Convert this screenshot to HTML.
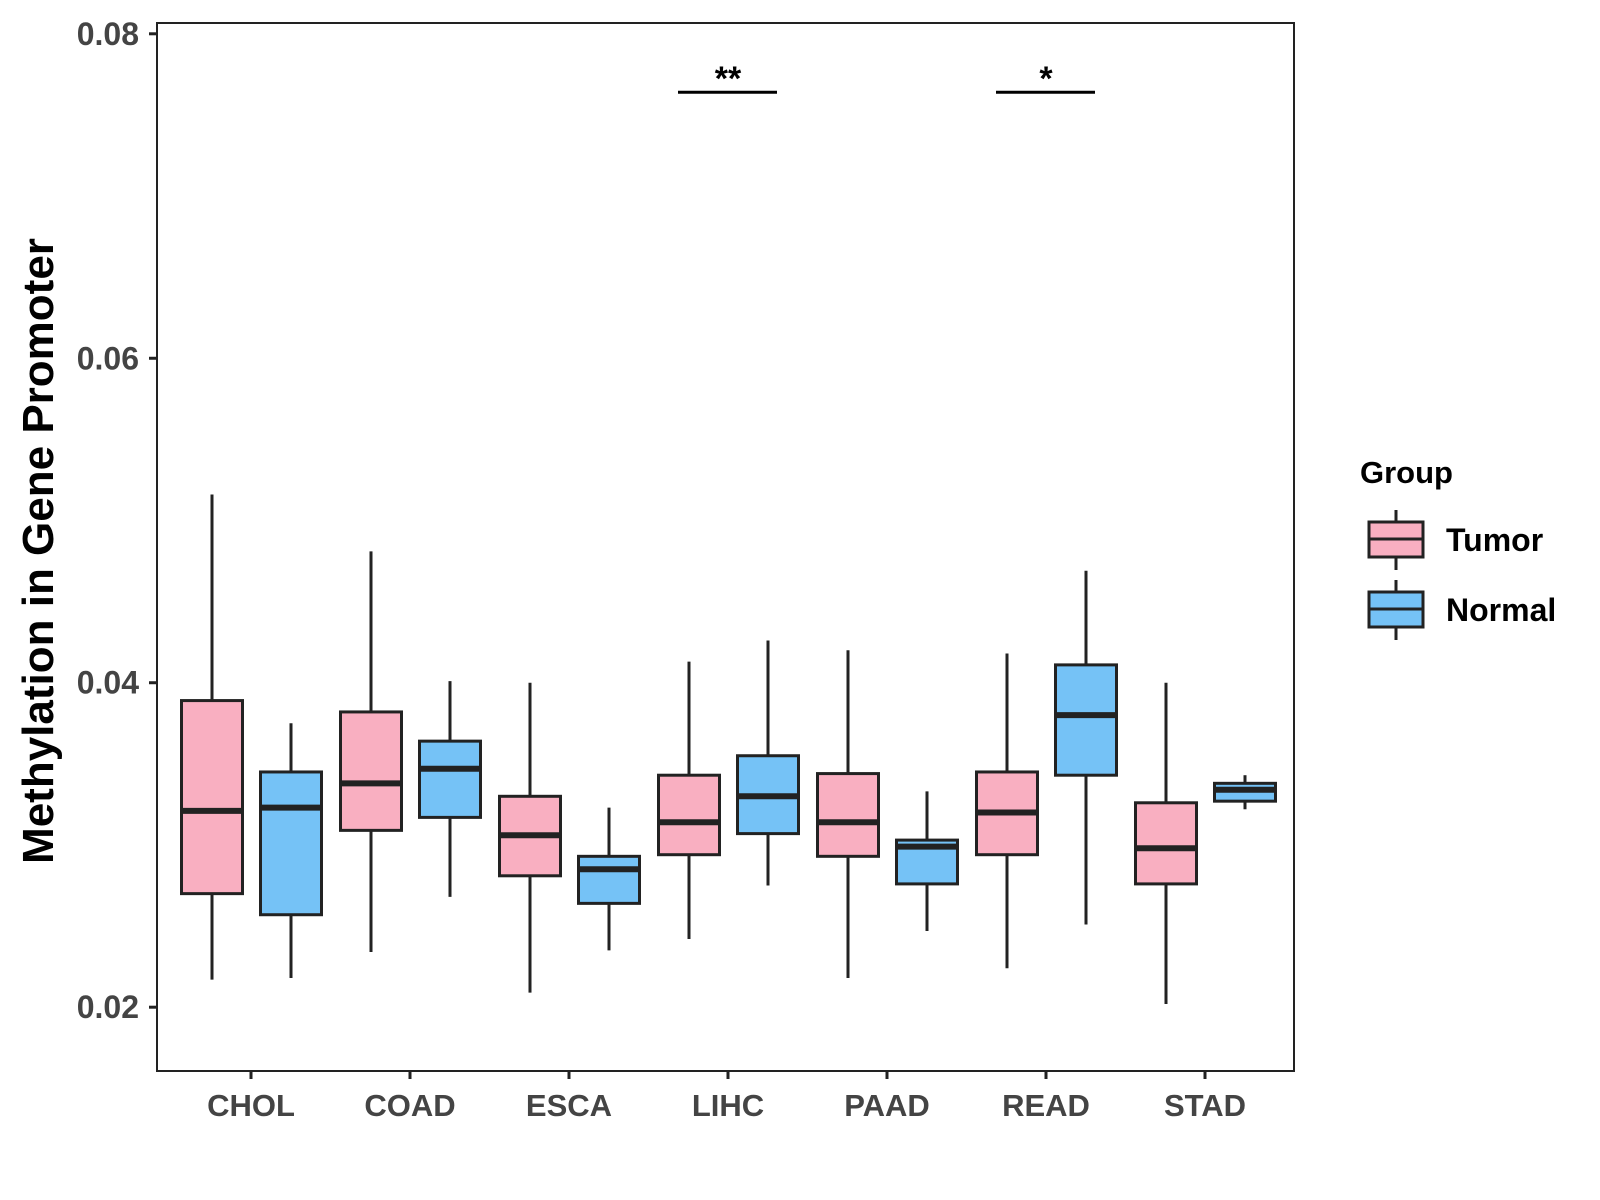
<!DOCTYPE html>
<html><head><meta charset="utf-8"><style>body{margin:0;background:#fff}svg{display:block;font-family:"Liberation Sans",Arial,sans-serif;font-weight:bold}</style></head>
<body>
<svg id="chart" width="1600" height="1200" xmlns="http://www.w3.org/2000/svg">
<rect x="157" y="23" width="1137" height="1048" fill="#fff" stroke="#222" stroke-width="2"/>
<g id="marks"></g>
<text transform="translate(53,551) rotate(-90)" text-anchor="middle" font-size="44" fill="#000">Methylation in Gene Promoter</text>
<g>
<text x="1360" y="483" font-size="31" fill="#000">Group</text>
<line x1="1396" y1="510" x2="1396" y2="570" stroke="#222" stroke-width="3"/>
<rect x="1369" y="522" width="54" height="35" fill="#F9AFC1" stroke="#222" stroke-width="3"/>
<line x1="1369" y1="539" x2="1423" y2="539" stroke="#222" stroke-width="3"/>
<text x="1446" y="551" font-size="32" fill="#000">Tumor</text>
<line x1="1396" y1="580" x2="1396" y2="640" stroke="#222" stroke-width="3"/>
<rect x="1369" y="592" width="54" height="35" fill="#75C2F6" stroke="#222" stroke-width="3"/>
<line x1="1369" y1="609" x2="1423" y2="609" stroke="#222" stroke-width="3"/>
<text x="1446" y="621" font-size="32" fill="#000">Normal</text>
</g>
</svg>
<script>
const categories=["CHOL","COAD","ESCA","LIHC","PAAD","READ","STAD"];
const tumorStats=[[0.0217,0.0270,0.0321,0.0389,0.0516],[0.0234,0.0309,0.0338,0.0382,0.0481],[0.0209,0.0281,0.0306,0.0330,0.0400],[0.0242,0.0294,0.0314,0.0343,0.0413],[0.0218,0.0293,0.0314,0.0344,0.0420],[0.0224,0.0294,0.0320,0.0345,0.0418],[0.0202,0.0276,0.0298,0.0326,0.0400]];
const normalStats=[[0.0218,0.0257,0.0323,0.0345,0.0375],[0.0268,0.0317,0.0347,0.0364,0.0401],[0.0235,0.0264,0.0285,0.0293,0.0323],[0.0275,0.0307,0.0330,0.0355,0.0426],[0.0247,0.0276,0.0299,0.0303,0.0333],[0.0251,0.0343,0.0380,0.0411,0.0469],[0.0322,0.0327,0.0334,0.0338,0.0343]];
const yTicks=[0.02,0.04,0.06,0.08];
const sigCats=["LIHC","READ"];
const sigLabels=["**","*"];
const sigValue=0.0764;
const NS="http://www.w3.org/2000/svg";
const svg=document.getElementById('chart'),g=document.getElementById('marks');
function y(v){return 33.8+(0.08-v)/0.06*973.4;}
function x(i){return 251+i*159;}
function el(t,a,p){const e=document.createElementNS(NS,t);for(const k in a)e.setAttribute(k,a[k]);(p||g).appendChild(e);return e;}
yTicks.forEach(t=>{
 const l=el('line',{x1:149,x2:157,y1:y(t),y2:y(t),stroke:'#222','stroke-width':3});
 
 
 const tx=el('text',{x:139,y:y(t)+11,'text-anchor':'end','font-size':32,fill:'#444'});
 tx.textContent=t.toFixed(2);
 
 
});
categories.forEach((c,i)=>{
 const l=el('line',{x1:x(i),x2:x(i),y1:1071,y2:1079,stroke:'#222','stroke-width':3});
 
 
 const tx=el('text',{x:x(i),y:1116,'text-anchor':'middle','font-size':31,fill:'#444'});
 tx.textContent=c;
 
 
 [[tumorStats[i],-39,'#F9AFC1','tumor'],[normalStats[i],40,'#75C2F6','normal']].forEach(([s,o,f,n])=>{
  const cx=x(i)+o,w=61;
  const bg=el('g',{});
  
  
  el('line',{x1:cx,x2:cx,y1:y(s[4]),y2:y(s[0]),stroke:'#222','stroke-width':3},bg);
  el('rect',{x:cx-w/2,y:y(s[3]),width:w,height:y(s[1])-y(s[3]),fill:f,stroke:'#222','stroke-width':3},bg);
  el('line',{x1:cx-w/2,x2:cx+w/2,y1:y(s[2]),y2:y(s[2]),stroke:'#222','stroke-width':6},bg);
 });
});
sigCats.forEach((c,k)=>{
 const i=categories.indexOf(c);
 const l=el('line',{x1:x(i)-39-11,x2:x(i)+40+9,y1:y(sigValue),y2:y(sigValue),stroke:'#000','stroke-width':3});
 
 
 const t=el('text',{x:x(i),y:y(sigValue)-2,'text-anchor':'middle','font-size':34,fill:'#000'});
 t.textContent=sigLabels[k];
 
 
});
</script>
</body></html>
